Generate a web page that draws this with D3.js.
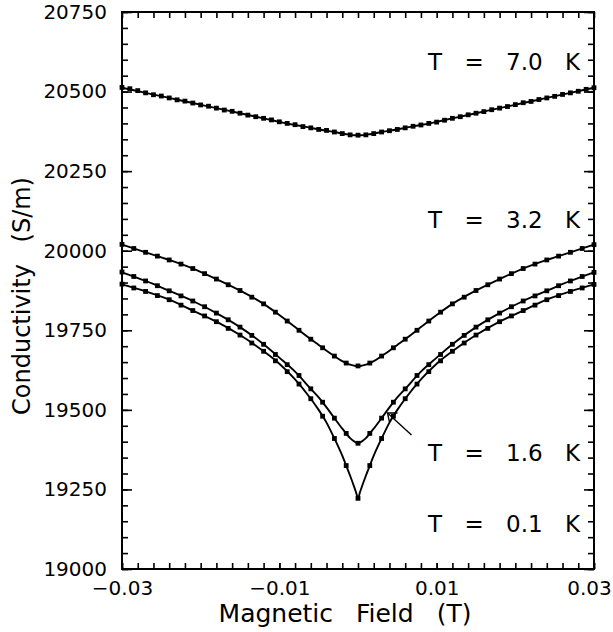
<!DOCTYPE html>
<html>
<head>
<meta charset="utf-8">
<script src="https://cdnjs.cloudflare.com/ajax/libs/d3/7.8.5/d3.min.js"></script>
<style>
  body { margin: 0; background: #fff; }
  svg { display: block; }
  text { font-family: "DejaVu Sans", sans-serif; fill: #000; }
  .tick line { stroke: #000; stroke-width: 1.6px; }
  .tick text { font-size: 20px; }
  .curve { fill: none; stroke: #000; stroke-width: 1.9px; }
  .dot { fill: #000; }
</style>
</head>
<body>
<svg id="chart" width="613" height="632"></svg>
<script>
// magnetic field in mT, conductivity in S/m

// T = 7.0 K, measured every 1 mT
var field7 = [-30,-29,-28,-27,-26,-25,-24,-23,-22,-21,-20,-19,-18,-17,-16,-15,-14,-13,-12,-11,-10,
  -9,-8,-7,-6,-5,-4,-3,-2,-1,0,1,2,3,4,5,6,7,8,9,10,11,12,13,14,15,16,17,18,19,20,21,22,23,24,25,26,27,28,29,30];
var sigma70 = [20513,20509,20503,20496,20490,20486,20480,20474,20470,20464,20458,20454,20448,20442,20438,
  20432,20426,20421,20416,20411,20405,20400,20396,20390,20386,20381,20378,20373,20368,20364,20363,
  20364,20368,20373,20377,20381,20386,20391,20395,20400,20404,20410,20416,20421,20427,20432,20437,
  20443,20448,20453,20459,20465,20469,20475,20480,20485,20491,20496,20501,20507,20512];

// lower temperatures, measured every 1.5 mT
var field15 = [-30,-28.5,-27,-25.5,-24,-22.5,-21,-19.5,-18,-16.5,-15,-13.5,-12,-10.5,-9,-7.5,-6,-4.5,-3,-1.5,0,
  1.5,3,4.5,6,7.5,9,10.5,12,13.5,15,16.5,18,19.5,21,22.5,24,25.5,27,28.5,30];
var sigma32 = [20020,20007,19995,19983,19971,19958,19944,19928,19911,19893,19875,19854,19833,19807,19779,
  19750,19722,19695,19669,19647,19638,19647,19669,19695,19722,19750,19779,19807,19833,19854,19875,
  19893,19911,19928,19944,19958,19971,19983,19995,20007,20019];
var sigma16 = [19933,19919,19905,19890,19874,19858,19842,19824,19804,19783,19760,19734,19706,19674,19642,
  19608,19566,19524,19474,19426,19395,19426,19474,19524,19566,19608,19642,19674,19706,19734,19760,
  19783,19804,19824,19842,19858,19874,19890,19905,19919,19932];
var sigma01 = [19895,19883,19872,19859,19846,19829,19812,19795,19777,19756,19735,19710,19684,19654,19620,
  19581,19535,19480,19410,19325,19222,19325,19410,19480,19535,19581,19620,19654,19684,19710,19735,
  19756,19777,19795,19812,19829,19846,19859,19872,19883,19894];

// fitted curves
var fitField = [-30,-27,-24,-21,-18,-15,-12,-10,-8,-6,-5,-4,-3,-2,-1.5,-1,-0.5,-0.25,0,
  0.25,0.5,1,1.5,2,3,4,5,6,8,10,12,15,18,21,24,27,30];
var fit70 = [20512,20496,20480,20464,20448,20432,20416,20405,20395,20386,20381,20377,20373,20368,20366,20365,20363,20363,20363,
  20363,20363,20365,20366,20368,20373,20377,20381,20386,20395,20405,20416,20432,20448,20464,20480,20496,20512];
var fit32 = [20019,19995,19971,19944,19911,19875,19833,19798,19760,19722,19704,19686,19669,19653,19647,19642,19639,19638,19638,
  19638,19639,19642,19647,19653,19669,19686,19704,19722,19760,19798,19833,19875,19911,19944,19971,19995,20019];
var fit16 = [19932,19905,19874,19842,19804,19760,19706,19664,19620,19566,19539,19508,19474,19441,19426,19411,19401,19397,19395,
  19397,19401,19411,19426,19441,19474,19508,19539,19566,19620,19664,19706,19760,19804,19842,19874,19905,19932];
var fit01 = [19894,19872,19846,19812,19777,19735,19684,19645,19596,19535,19500,19460,19410,19356,19325,19293,19259,19241,19222,
  19241,19259,19293,19325,19356,19410,19460,19500,19535,19596,19645,19684,19735,19777,19812,19846,19872,19894];

var labels = ["T = 7.0 K", "T = 3.2 K", "T = 1.6 K", "T = 0.1 K"];
var labelValues = [20592, 20098, 19364, 19141];

var xMajor = [-30, -10, 10, 30];
var yMajor = [19000, 19250, 19500, 19750, 20000, 20250, 20500, 20750];

var margin = {top: 12, right: 19, bottom: 63, left: 122};
var width = 613 - margin.left - margin.right;
var height = 632 - margin.top - margin.bottom;

var svg = d3.select('#chart');
var g = svg.append('g').attr('transform', 'translate(' + margin.left + ',' + margin.top + ')');

var x = d3.scaleLinear().domain([-30, 30]).range([0, width]);
var y = d3.scaleLinear().domain([19000, 20750]).range([height, 0]);

var xMinor = d3.range(-30, 31, 2);
var yMinor = d3.range(19000, 20751, 50);
var fmtX = function(d) { return d3.format('.2f')(d / 1000); };

function clean(sel) { sel.select('.domain').remove(); }

// bottom
g.append('g').attr('transform', 'translate(0,' + height + ')')
  .call(d3.axisBottom(x).tickValues(xMinor).tickSize(-6).tickFormat('')).call(clean);
var xLab = g.append('g').attr('transform', 'translate(0,' + height + ')')
  .call(d3.axisBottom(x).tickValues(xMajor).tickSize(-6).tickPadding(12).tickFormat(fmtX)).call(clean);
// last label hugs the page edge
xLab.selectAll('.tick text').filter(function(d) { return d === 30; }).attr('dx', -5);
// top
g.append('g').call(d3.axisTop(x).tickValues(xMinor).tickSize(-6).tickFormat('')).call(clean);
// left
g.append('g').call(d3.axisLeft(y).tickValues(yMinor).tickSize(-6).tickFormat('')).call(clean);
g.append('g').call(d3.axisLeft(y).tickValues(yMajor).tickSize(-10).tickPadding(15).tickFormat(d3.format('d'))).call(clean);
// right
g.append('g').attr('transform', 'translate(' + width + ',0)')
  .call(d3.axisRight(y).tickValues(yMinor).tickSize(-6).tickFormat('')).call(clean);
g.append('g').attr('transform', 'translate(' + width + ',0)')
  .call(d3.axisRight(y).tickValues(yMajor).tickSize(-10).tickFormat('')).call(clean);

g.append('rect')
  .attr('width', width).attr('height', height)
  .attr('fill', 'none').attr('stroke', '#000').attr('stroke-width', 2);

// curves + points
var line = d3.line()
  .x(function(d) { return x(d[0]); })
  .y(function(d) { return y(d[1]); })
  .curve(d3.curveMonotoneX);

var fits = [fit70, fit32, fit16, fit01];
fits.forEach(function(f) {
  g.append('path').attr('class', 'curve').attr('d', line(d3.zip(fitField, f)));
});

var sets = [[field7, sigma70], [field15, sigma32], [field15, sigma16], [field15, sigma01]];
sets.forEach(function(s) {
  g.selectAll(null)
    .data(d3.zip(s[0], s[1]))
    .enter().append('rect')
    .attr('class', 'dot')
    .attr('x', function(d) { return x(d[0]) - 2.4; })
    .attr('y', function(d) { return y(d[1]) - 2.4; })
    .attr('width', 4.8).attr('height', 4.8);
});

// temperature labels
g.selectAll('.tlabel')
  .data(labels)
  .enter().append('text')
  .attr('class', 'tlabel')
  .attr('x', width - 14)
  .attr('y', function(d, i) { return y(labelValues[i]) + 8; })
  .attr('text-anchor', 'end')
  .style('font-size', '23px')
  .style('word-spacing', '15px')
  .text(function(d) { return d; });

// arrow to the 1.6 K curve
var tail = [6.8, 19421], head = [3.75, 19490];
g.append('line')
  .attr('x1', x(tail[0])).attr('y1', y(tail[1]))
  .attr('x2', x(head[0])).attr('y2', y(head[1]))
  .attr('stroke', '#000').attr('stroke-width', 1.4);
g.append('path')
  .attr('d', 'M' + (x(head[0]) + 10) + ',' + y(head[1]) + 'L' + x(head[0]) + ',' + y(head[1]) +
             'L' + (x(head[0]) + 2) + ',' + (y(head[1]) + 9))
  .attr('fill', 'none').attr('stroke', '#000').attr('stroke-width', 1.4);

// axis titles
svg.append('text')
  .attr('x', 345).attr('y', 622)
  .attr('text-anchor', 'middle')
  .style('font-size', '25px')
  .style('word-spacing', '15px')
  .text('Magnetic Field (T)');

svg.append('text')
  .attr('transform', 'translate(30,296) rotate(-90)')
  .attr('text-anchor', 'middle')
  .style('font-size', '24px')
  .style('word-spacing', '14px')
  .text('Conductivity (S/m)');
</script>
</body>
</html>
